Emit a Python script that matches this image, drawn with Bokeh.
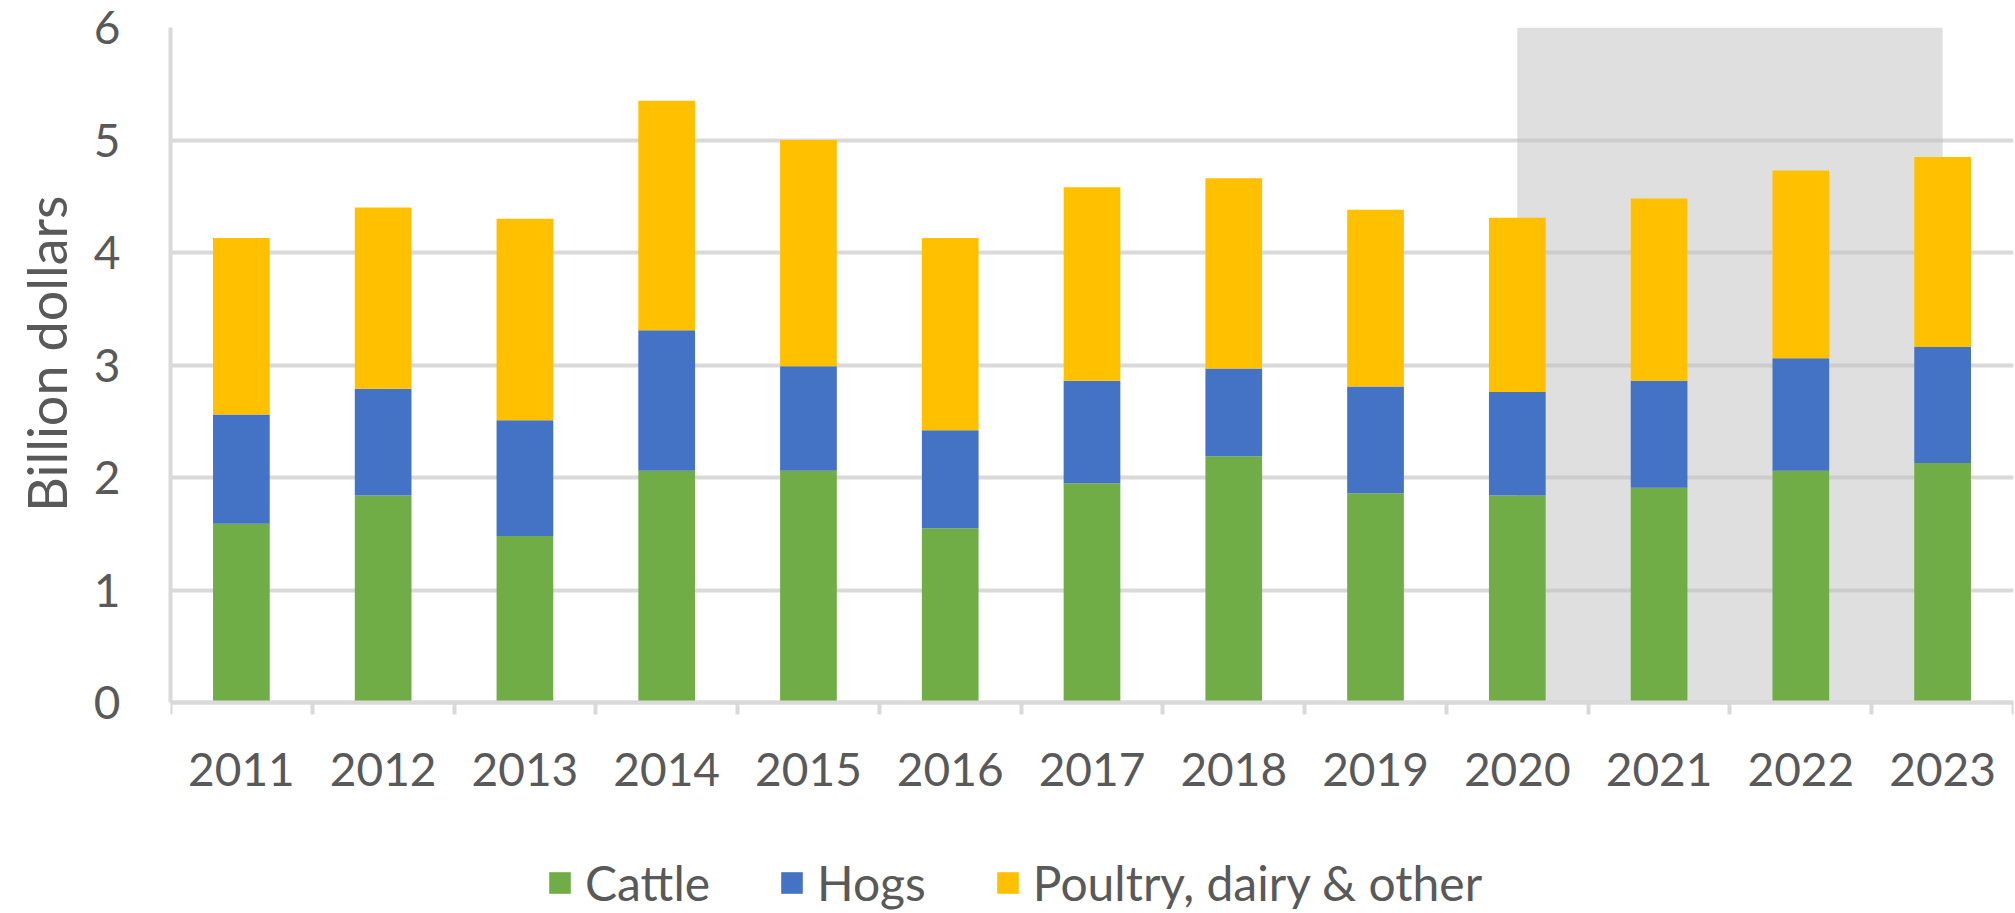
from bokeh.plotting import figure
from bokeh.models import (ColumnDataSource, Range1d, FixedTicker, BoxAnnotation,
                          Legend, LegendItem, Title)
from bokeh.embed import file_html
from bokeh.resources import INLINE

years = ["2011", "2012", "2013", "2014", "2015", "2016", "2017",
         "2018", "2019", "2020", "2021", "2022", "2023"]
cattle = [1.59, 1.84, 1.48, 2.06, 2.06, 1.55, 1.95, 2.19, 1.86, 1.84, 1.91, 2.06, 2.13]
hogs = [0.97, 0.95, 1.03, 1.25, 0.93, 0.87, 0.91, 0.78, 0.95, 0.92, 0.95, 1.00, 1.03]
poultry = [1.57, 1.61, 1.79, 2.04, 2.01, 1.71, 1.72, 1.69, 1.57, 1.55, 1.62, 1.67, 1.69]
series_names = ["Cattle", "Hogs", "Poultry, dairy & other"]
series_colors = ["#70ad47", "#4472c4", "#ffc000"]
y_ticks = [0, 1, 2, 3, 4, 5, 6]
y_title = "Billion dollars"
shade_from, shade_to = "2020", "2023"

FONT = "Lato"
TXT = "#595959"
GRID = "#d9d9d9"

W, H = 2015, 913
TOP, BOTTOM_AXIS = 27, 702          # pixel rows of the 6 and 0 gridlines
px_per_unit = (BOTTOM_AXIS - TOP) / (y_ticks[-1] - y_ticks[0])
y_start = y_ticks[0] - (H - BOTTOM_AXIS) / px_per_unit   # room below 0 for labels + legend

n = len(years)
centers = [i + 0.5 for i in range(n)]
source = ColumnDataSource(dict(x=centers, cattle=cattle, hogs=hogs, poultry=poultry))

p = figure(width=W, height=H, output_backend="svg", toolbar_location=None,
           x_range=Range1d(0, n), y_range=Range1d(y_start, y_ticks[-1]),
           min_border_left=168, min_border_right=2, min_border_top=TOP,
           min_border_bottom=0)
p.outline_line_color = None
p.background_fill_color = "white"
p.border_fill_color = "white"

# grid
p.xgrid.grid_line_color = None
p.ygrid.grid_line_color = GRID
p.ygrid.grid_line_width = 4
p.ygrid.ticker = FixedTicker(ticks=y_ticks)

# projection shading (drawn over grid, under bars)
shade = BoxAnnotation(left=years.index(shade_from) + 0.5, right=years.index(shade_to) + 0.5,
                      bottom=y_ticks[0], top=y_ticks[-1], fill_color="#bfbfbf",
                      fill_alpha=0.5, line_color=None, level="underlay")
p.add_layout(shade)

renderers = p.vbar_stack(["cattle", "hogs", "poultry"], x="x", width=0.4,
                         color=series_colors, line_color=None, source=source)

# x axis, pinned at y = 0
xa = p.xaxis[0]
xa.fixed_location = y_ticks[0]
xa.ticker = FixedTicker(ticks=centers, minor_ticks=list(range(n + 1)))
xa.major_label_overrides = {c: y for c, y in zip(centers, years)}
xa.major_tick_line_color = None
xa.major_tick_out = 0
xa.major_tick_in = 0
xa.minor_tick_line_color = GRID
xa.minor_tick_line_width = 4
xa.minor_tick_out = 12
xa.minor_tick_in = 0
xa.axis_line_color = GRID
xa.axis_line_width = 4
xa.major_label_standoff = 38
xa.major_label_text_font = FONT
xa.major_label_text_font_size = "46px"
xa.major_label_text_color = TXT

# y axis
ya = p.yaxis[0]
ya.bounds = (y_ticks[0], y_ticks[-1])
ya.ticker = FixedTicker(ticks=y_ticks)
ya.axis_line_color = GRID
ya.axis_line_width = 4
ya.major_tick_line_color = None
ya.minor_tick_line_color = None
ya.major_tick_out = 0
ya.major_tick_in = 0
ya.major_label_standoff = 50
ya.major_label_text_font = FONT
ya.major_label_text_font_size = "46px"
ya.major_label_text_color = TXT

# y-axis title, centred on the 0..6 span rather than on the whole frame
ytitle = Title(text=y_title, align="right", offset=168, standoff=23,
               text_font=FONT, text_font_size="54px", text_font_style="normal",
               text_color=TXT)
p.add_layout(ytitle, "left")

legend = Legend(items=[LegendItem(label=nm, renderers=[r]) for nm, r in zip(series_names, renderers)],
                orientation="horizontal", location=(376, 2),
                glyph_width=27, glyph_height=27, label_standoff=12, spacing=68,
                padding=0, margin=0, border_line_color=None, background_fill_alpha=0,
                label_text_font=FONT, label_text_font_size="48px", label_text_color=TXT)
p.add_layout(legend, "center")

open("out.html", "w").write(file_html(p, INLINE))
